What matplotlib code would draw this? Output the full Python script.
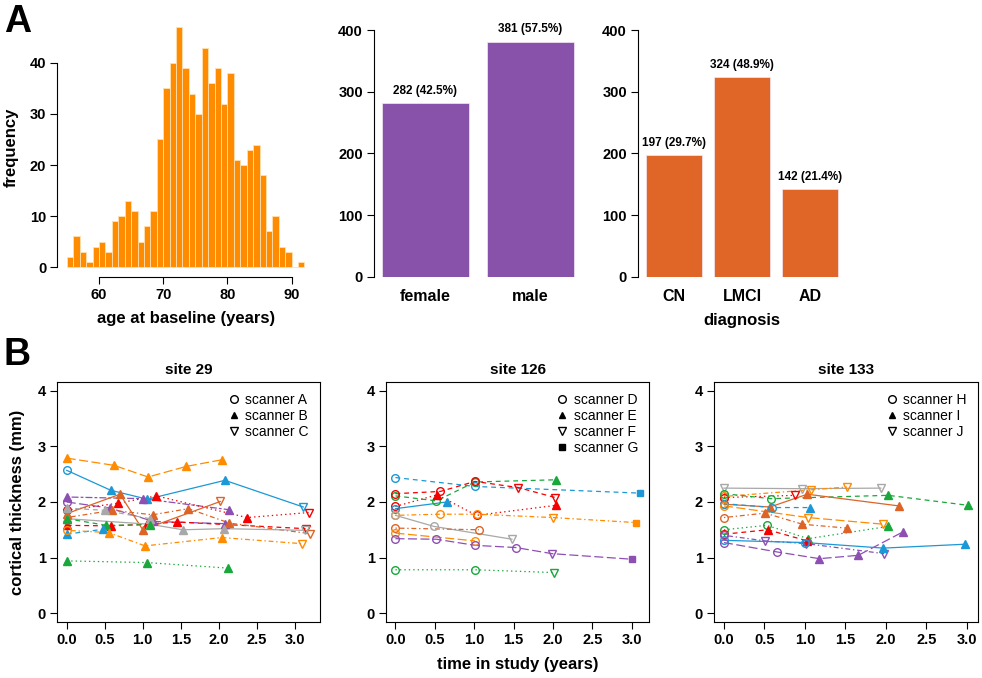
import matplotlib
matplotlib.use("Agg")
import matplotlib.pyplot as plt
from matplotlib.lines import Line2D

plt.rcParams['font.family'] = ['Liberation Sans', 'DejaVu Sans']
plt.rcParams['lines.scale_dashes'] = False

# ---- data ----
age_bins = list(range(55, 92))
age_counts = [2, 6, 3, 1, 4, 5, 3, 9, 10, 13, 11, 5, 8, 11, 25, 35, 40, 47, 39, 34,
              30, 43, 36, 39, 32, 38, 21, 20, 23, 24, 18, 7, 10, 4, 3, 0, 1]

sex_labels = ["female", "male"]
sex_counts = [282, 381]
sex_pct = ["42.5%", "57.5%"]

dx_labels = ["CN", "LMCI", "AD"]
dx_counts = [197, 324, 142]
dx_pct = ["29.7%", "48.9%", "21.4%"]

site_names = ["site 29", "site 126", "site 133"]
site_scanners = [["A", "B", "C"], ["D", "E", "F", "G"], ["H", "I", "J"]]

site29_time = [[0, 0.62, 1.07, 1.57, 2.04], [0, 0.58, 1.06, 2.08, 3.11], [0, 1.0, 2.14],
               [0, 0.57, 1.14, 2.08], [0, 0.68, 1.18, 2.37, 3.18], [0, 0.58, 1.05, 1.45, 3.14],
               [0, 0.70, 1.0, 2.02], [0, 0.6, 1.13, 1.6, 2.14, 3.2], [0, 1.09, 1.53, 2.07, 3.13],
               [0, 0.5, 1.09], [0, 0.52, 1.09], [0, 0.48], [0, 0.55, 1.03, 2.04, 3.09],
               [0, 1.05, 2.12]]
site29_thick = [[2.79, 2.66, 2.45, 2.64, 2.76], [2.57, 2.21, 2.05, 2.39, 1.91], [2.09, 2.06, 1.86],
                [2.0, 1.89, 1.65, 1.61], [1.85, 1.98, 2.11, 1.72, 1.81], [1.58, 1.57, 1.60, 1.64, 1.52],
                [1.79, 2.14, 1.5, 2.01], [1.72, 1.85, 1.77, 1.88, 1.62, 1.43], [1.70, 1.60, 1.50, 1.52, 1.49],
                [1.89, 1.85, 1.70], [1.70, 1.58, 1.59], [1.42, 1.51], [1.49, 1.45, 1.21, 1.36, 1.25],
                [0.94, 0.91, 0.81]]
site29_scan = ["BBBBB", "ABBBC", "BBB", "ABBB", "ABBBC", "BBBBC", "BBBC", "BBBBBC", "BBBBC",
               "BBB", "BBB", "BB", "ABBBC", "BBB"]

site126_time = [[0, 1.01, 3.1], [0, 0.52, 1.01, 2.04], [0, 0.57, 1.01, 1.56, 2.03], [0, 0.53, 1.03, 2.04],
                [0, 0.65], [0, 0.56, 1.04, 2.0, 3.05], [0, 0.49, 1.48], [0, 1.06], [0, 1.01],
                [0, 0.52, 1.01, 1.53, 1.99, 3.0], [0, 1.01, 2.01]]
site126_thick = [[2.44, 2.28, 2.16], [2.11, 2.02, 2.36, 2.40], [2.15, 2.19, 2.37, 2.26, 2.08],
                 [1.92, 2.13, 1.76, 1.94], [1.88, 2.0], [1.76, 1.78, 1.78, 1.72, 1.63], [1.76, 1.56, 1.33],
                 [1.53, 1.50], [1.44, 1.30], [1.34, 1.33, 1.22, 1.18, 1.07, 0.97], [0.78, 0.78, 0.73]]
site126_scan = ["DDG", "DDDE", "DDDFF", "DEDE", "DE", "DDDFG", "DDF", "DD", "DD", "DDDDFG", "DDF"]

site133_time = [[0, 0.96, 1.94], [0, 1.08, 1.52], [0, 0.88], [0, 0.58, 2.03, 3.02], [0, 0.57, 1.03, 2.16],
                [0, 0.6, 1.06], [0, 1.04, 1.97], [0, 0.51, 0.97, 1.52], [0, 0.53, 1.04, 2.03],
                [0, 0.54, 1.03], [0, 0.51, 1.02, 1.98], [0, 0.66, 1.18, 1.66, 2.21], [0, 1.0, 1.97, 2.98]]
site133_thick = [[2.25, 2.24, 2.25], [2.1, 2.22, 2.27], [2.08, 2.12], [2.15, 2.06, 2.12, 1.94],
                 [1.96, 1.91, 2.14, 1.93], [1.97, 1.9, 1.90], [1.93, 1.72, 1.60], [1.72, 1.80, 1.60, 1.53],
                 [1.50, 1.58, 1.34, 1.56], [1.42, 1.50, 1.30], [1.40, 1.30, 1.25, 1.07],
                 [1.27, 1.10, 0.98, 1.04, 1.46], [1.31, 1.27, 1.17, 1.24]]
site133_scan = ["JJJ", "HJJ", "HJ", "HHII", "HIII", "HHI", "HJJ", "HIII", "HHII", "HII", "HJJJ",
                "HHIII", "HHII"]

# ---- styles ----
ORANGE = "#FF8C00"
BLUE = "#1B98D5"
PURPLE = "#8E4FB3"
RED = "#F40000"
DKORANGE = "#DD6426"
GRAY = "#A8A8A8"
GREEN = "#18A83B"

solid = "-"
dashed = (0, (3.5, 2.8))
dotted = (0, (1, 2.2))
dotdash = (0, (1, 2, 3.5, 2))
longdash = (0, (6.5, 2.5))
twodash = (0, (2, 1.5, 5, 1.5))

site29_col = [ORANGE, BLUE, PURPLE, PURPLE, RED, RED, DKORANGE, DKORANGE, GRAY, GRAY, GREEN, BLUE,
              ORANGE, GREEN]
site29_ls = [longdash, solid, twodash, longdash, dotted, dashed, solid, dotdash, solid, dashed, dashed,
             dashed, dotdash, dotted]
site126_col = [BLUE, GREEN, RED, RED, BLUE, ORANGE, GRAY, DKORANGE, ORANGE, PURPLE, GREEN]
site126_ls = [dashed, dashed, dashed, dotted, solid, dotdash, solid, dotdash, longdash, longdash, dotted]
site133_col = [GRAY, ORANGE, RED, GREEN, DKORANGE, BLUE, ORANGE, DKORANGE, GREEN, RED, PURPLE, PURPLE, BLUE]
site133_ls = [solid, dotdash, dotted, dashed, solid, dashed, longdash, dotdash, dotted, dashed, dotdash,
              longdash, solid]

marker_of = {"A": "o", "D": "o", "H": "o", "B": "^", "E": "^", "I": "^",
             "C": "v", "F": "v", "J": "v", "G": "s"}
filled = set("BEIG")

W, H = 982, 678
fig = plt.figure(figsize=(W / 100, H / 100), dpi=100)


def rect(l, r, t, b):
    return [l / W, 1 - b / H, (r - l) / W, (b - t) / H]


TICK = dict(labelsize=10.5, width=0.8, length=5, direction="out", pad=3)


def bold_ticks(ax):
    for lab in ax.get_xticklabels() + ax.get_yticklabels():
        lab.set_fontweight("bold")


# ---- histogram ----
ax = fig.add_axes(rect(57.4, 314, 17.7, 276.6))
ax.bar(age_bins, age_counts, width=1, align="edge", color=ORANGE, edgecolor="#FFE0B0", linewidth=0.6)
ax.set_xlim(53.52, 93.48)
ax.set_ylim(-1.88, 48.88)
ax.set_xticks([60, 70, 80, 90])
ax.set_yticks([0, 10, 20, 30, 40])
ax.spines["top"].set_visible(False)
ax.spines["right"].set_visible(False)
ax.spines["bottom"].set_bounds(60, 90)
ax.spines["left"].set_bounds(0, 40)
ax.tick_params(**TICK)
ax.set_xlabel("age at baseline (years)", fontsize=12, fontweight="bold", labelpad=7)
ax.set_ylabel("frequency", fontsize=12, fontweight="bold", labelpad=8)
bold_ticks(ax)


def barpanel(box, labels, counts, pct, color, xlim, xlabel=None):
    ax = fig.add_axes(box)
    pos = [0.7 + 1.2 * i for i in range(len(counts))]
    ax.bar(pos, counts, width=1, color=color, edgecolor="#F4E8F4", linewidth=0.5)
    for p, c, s in zip(pos, counts, pct):
        ax.annotate("%d (%s)" % (c, s), (p, c), xytext=(0, 4.5), textcoords="offset points",
                    ha="center", va="bottom", fontsize=8.5, fontweight="bold",
                    annotation_clip=False)
    ax.set_xlim(*xlim)
    ax.set_ylim(0, 400)
    ax.set_xticks(pos)
    ax.set_xticklabels(labels)
    ax.set_yticks([0, 100, 200, 300, 400])
    for s in ["top", "right", "bottom"]:
        ax.spines[s].set_visible(False)
    ax.tick_params(**TICK)
    ax.tick_params(axis="x", length=0, pad=9, labelsize=11.5)
    if xlabel:
        ax.set_xlabel(xlabel, fontsize=12, fontweight="bold", labelpad=6)
    bold_ticks(ax)


barpanel(rect(374, 582, 30, 277), sex_labels, sex_counts, sex_pct, "#8852AB", (0.112, 2.488))
barpanel(rect(638, 846, 30, 277), dx_labels, dx_counts, dx_pct, "#DF6627", (0.064, 3.736), "diagnosis")

# ---- longitudinal panels ----
panels = [
    (rect(57, 320, 382, 622), site29_time, site29_thick, site29_scan, site29_col, site29_ls, (-0.128, 3.33)),
    (rect(386, 649, 382, 622), site126_time, site126_thick, site126_scan, site126_col, site126_ls, (-0.12, 3.22)),
    (rect(714, 978, 382, 622), site133_time, site133_thick, site133_scan, site133_col, site133_ls, (-0.123, 3.14)),
]

for k, (box, times, thick, scans, cols, lss, xl) in enumerate(panels):
    ax = fig.add_axes(box)
    for t, y, sc, c, ls in zip(times, thick, scans, cols, lss):
        ax.plot(t, y, color=c, linestyle=ls, linewidth=0.9, zorder=2)
        for ti, yi, s in zip(t, y, sc):
            if s in filled:
                ax.plot(ti, yi, marker=marker_of[s], color=c, markersize=5.5 if s != "G" else 4.5,
                        linestyle="none", zorder=3)
            else:
                ax.plot(ti, yi, marker=marker_of[s], markerfacecolor="none", markeredgecolor=c,
                        markeredgewidth=1.0, markersize=5.5, linestyle="none", zorder=3)
    ax.set_xlim(*xl)
    ax.set_ylim(-0.16, 4.16)
    ax.set_xticks([0, 0.5, 1, 1.5, 2, 2.5, 3])
    ax.set_xticklabels(["0.0", "0.5", "1.0", "1.5", "2.0", "2.5", "3.0"])
    ax.set_yticks([0, 1, 2, 3, 4])
    ax.tick_params(**TICK)
    ax.set_title(site_names[k], fontsize=11, fontweight="bold", pad=6)
    for sp in ax.spines.values():
        sp.set_linewidth(0.8)
    handles = []
    for s in site_scanners[k]:
        if s in filled:
            h = Line2D([], [], marker=marker_of[s], color="black", linestyle="none", markersize=5)
        else:
            h = Line2D([], [], marker=marker_of[s], markerfacecolor="none", markeredgecolor="black",
                       linestyle="none", markersize=5.5)
        handles.append(h)
    ax.legend(handles, ["scanner " + s for s in site_scanners[k]], loc="upper right", frameon=False,
              fontsize=10, handletextpad=0.3, handlelength=1.0, labelspacing=0.15,
              borderaxespad=0.4)
    if k == 0:
        ax.set_ylabel("cortical thickness (mm)", fontsize=12, fontweight="bold", labelpad=9)
    if k == 1:
        ax.set_xlabel("time in study (years)", fontsize=12, fontweight="bold", labelpad=7)
    bold_ticks(ax)

fig.text(0.004, 0.968, "A", fontsize=27, fontweight="bold", va="center")
fig.text(0.004, 0.477, "B", fontsize=27, fontweight="bold", va="center")

fig.savefig("out.png", dpi=100)
